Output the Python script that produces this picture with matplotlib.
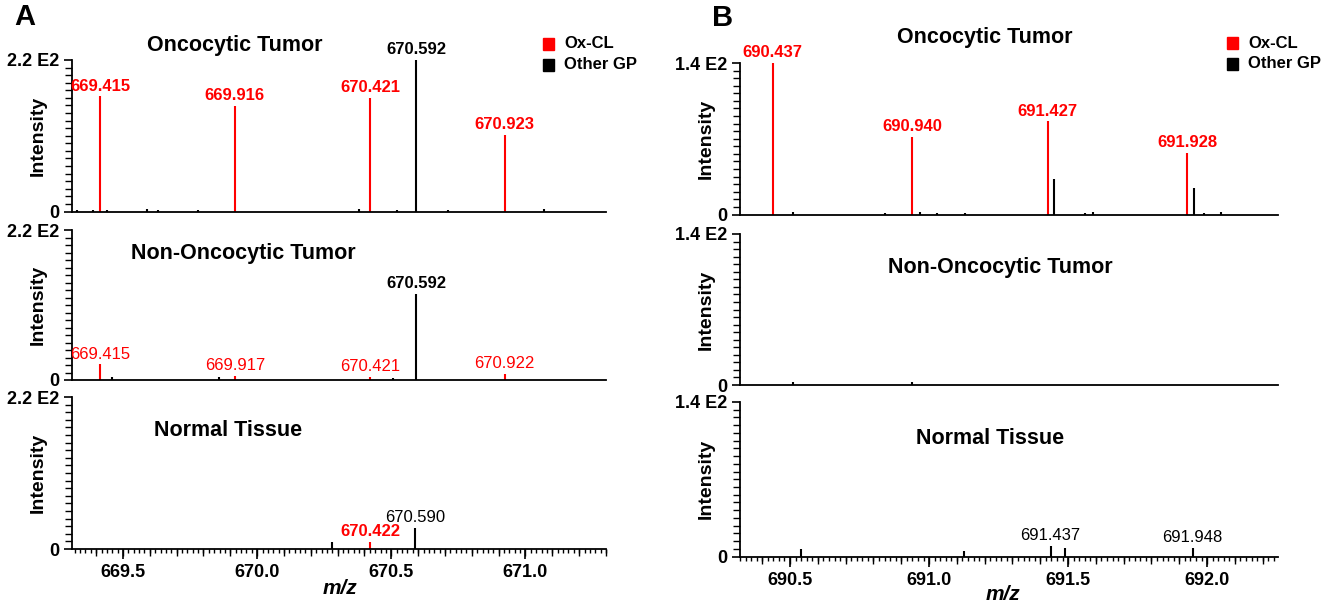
import matplotlib
matplotlib.use("Agg")
import matplotlib.pyplot as plt
from matplotlib.patches import Rectangle
from matplotlib.ticker import MultipleLocator, FixedLocator, NullFormatter

plt.rcParams['font.family'] = ['Liberation Sans', 'DejaVu Sans']

RED = '#ff0000'
BLACK = '#000000'

# ---------------- data ----------------
# Panel A (m/z 669.3 - 671.3), y max 2.2 E2
A_top_ox_mz = [669.415, 669.916, 670.421, 670.923]
A_top_ox_int = [167, 153, 165, 111]
A_top_gp_mz = [669.33, 669.39, 669.44, 669.59, 669.63, 669.78, 670.38, 670.52, 670.592, 670.71, 671.07]
A_top_gp_int = [2, 2, 2, 3, 2, 2, 4, 2, 220, 1.5, 3]
A_top_labels = [("669.415", 'ox', True), ("669.916", 'ox', True), ("670.421", 'ox', True),
                ("670.592", 'gp', True), ("670.923", 'ox', True)]

A_mid_ox_mz = [669.415, 669.917, 670.421, 670.922]
A_mid_ox_int = [23, 6.5, 5, 9]
A_mid_gp_mz = [669.46, 669.857, 670.505, 670.592]
A_mid_gp_int = [4.5, 5, 3, 126]
A_mid_labels = [("669.415", 'ox', False), ("669.917", 'ox', False), ("670.421", 'ox', False),
                ("670.592", 'gp', True), ("670.922", 'ox', False)]

A_bot_ox_mz = [670.422]
A_bot_ox_int = [10]
A_bot_gp_mz = [670.28, 670.590]
A_bot_gp_int = [10, 31]
A_bot_labels = [("670.422", 'ox', True), ("670.590", 'gp', False)]

# Panel B (m/z 690.3 - 692.3), y max 1.4 E2
B_top_ox_mz = [690.437, 690.940, 691.427, 691.928]
B_top_ox_int = [140, 72, 86, 57]
B_top_gp_mz = [690.51, 690.84, 690.966, 691.03, 691.13, 691.448, 691.56, 691.59, 691.953, 691.99, 692.05]
B_top_gp_int = [2.5, 1.5, 2.5, 1.5, 1.5, 33, 1.5, 2, 24.6, 1.5, 2]
B_top_labels = [("690.437", 'ox', True), ("690.940", 'ox', True), ("691.427", 'ox', True),
                ("691.928", 'ox', True)]

B_mid_ox_mz = []
B_mid_ox_int = []
B_mid_gp_mz = [690.51, 690.94]
B_mid_gp_int = [3, 3]
B_mid_labels = []

B_bot_ox_mz = []
B_bot_ox_int = []
B_bot_gp_mz = [690.54, 691.126, 691.437, 691.49, 691.948]
B_bot_gp_int = [6.5, 5, 9.5, 8, 8]
B_bot_labels = [("691.437", 'gp', False), ("691.948", 'gp', False)]

A_xticks = [669.5, 670.0, 670.5, 671.0]
B_xticks = [690.5, 691.0, 691.5, 692.0]
A_ymax, A_ymax_label = 220, "2.2 E2"
B_ymax, B_ymax_label = 140, "1.4 E2"
titles = ["Oncocytic Tumor", "Non-Oncocytic Tumor", "Normal Tissue"]
legend_labels = ["Ox-CL", "Other GP"]

# ---------------- figure ----------------
W, H = 1340, 604
fig = plt.figure(figsize=(W / 100, H / 100), dpi=100)


def add_ax(l, t, r, b):
    ax = fig.add_axes([l / W, 1 - b / H, (r - l) / W, (b - t) / H])
    ax._px = (l, t, r, b)
    return ax


def draw_panel(ax, ox_mz, ox_int, gp_mz, gp_int, labels, xlim, ymax, ylab, bottom, xticks,
               ylabel_x, xlabel_xy=None):
    l, t, r, b = ax._px
    ax.vlines(gp_mz, 0, gp_int, color=BLACK, lw=1.5, clip_on=False)
    ax.vlines(ox_mz, 0, ox_int, color=RED, lw=1.5, clip_on=False)
    ax.set_xlim(*xlim)
    ax.set_ylim(0, ymax)
    for s in ['top', 'right']:
        ax.spines[s].set_visible(False)
    for s in ['left', 'bottom']:
        ax.spines[s].set_linewidth(1.3)
    ax.yaxis.set_major_locator(FixedLocator([0, ymax]))
    ax.set_yticklabels(["0", ylab])
    ax.yaxis.set_minor_locator(MultipleLocator(ymax / 20))
    ax.tick_params(axis='y', which='major', length=6, width=1.2, pad=3,
                   labelsize=13)
    ax.tick_params(axis='y', which='minor', length=5, width=1.0)
    for tl in ax.get_yticklabels():
        tl.set_fontweight('bold')
    ax.set_ylabel("Intensity", fontsize=14, fontweight='bold')
    ax.yaxis.set_label_coords((ylabel_x - l) / (r - l), 0.5)
    ax.yaxis.label.set_va('center')
    if bottom:
        ax.xaxis.set_major_locator(FixedLocator(xticks))
        ax.set_xticklabels([f"{v:.1f}" for v in xticks])
        ax.xaxis.set_minor_locator(MultipleLocator(0.02))
        ax.tick_params(axis='x', which='major', length=7, width=1.2, labelsize=13, pad=4)
        ax.tick_params(axis='x', which='minor', length=3, width=1.0)
        for tl in ax.get_xticklabels():
            tl.set_fontweight('bold')
        sec = ax.secondary_xaxis('bottom')
        sec.xaxis.set_major_locator(MultipleLocator(0.1))
        sec.xaxis.set_major_formatter(NullFormatter())
        sec.tick_params(axis='x', length=5, width=1.0)
        sec.spines['bottom'].set_visible(False)
        ax.set_xlabel("m/z", fontsize=15, fontweight='bold', style='italic')
        xx, yy = xlabel_xy
        ax.xaxis.set_label_coords((xx - l) / (r - l), (b - yy) / (b - t))
        ax.xaxis.label.set_va('center')
    else:
        ax.set_xticks([])
    all_mz = list(ox_mz) + list(gp_mz)
    all_int = list(ox_int) + list(gp_int)
    for txt, kind, bold in labels:
        v = float(txt)
        i = min(range(len(all_mz)), key=lambda k: abs(all_mz[k] - v))
        ax.annotate(txt, (all_mz[i], all_int[i]), xytext=(0, 2), textcoords='offset points',
                    ha='center', va='bottom', fontsize=12,
                    fontweight='bold' if bold else 'normal',
                    color=RED if kind == 'ox' else BLACK, annotation_clip=False)


A_xlim = (669.31, 671.30)
B_xlim = (690.32, 692.255)

axA = [add_ax(72, 60, 606, 211.5), add_ax(72, 230, 606, 380), add_ax(72, 397, 606, 549)]
axB = [add_ax(740, 63, 1278, 214.5), add_ax(740, 234, 1278, 385), add_ax(740, 402, 1278, 556.5)]

draw_panel(axA[0], A_top_ox_mz, A_top_ox_int, A_top_gp_mz, A_top_gp_int, A_top_labels,
           A_xlim, A_ymax, A_ymax_label, False, A_xticks, 38)
draw_panel(axA[1], A_mid_ox_mz, A_mid_ox_int, A_mid_gp_mz, A_mid_gp_int, A_mid_labels,
           A_xlim, A_ymax, A_ymax_label, False, A_xticks, 38)
draw_panel(axA[2], A_bot_ox_mz, A_bot_ox_int, A_bot_gp_mz, A_bot_gp_int, A_bot_labels,
           A_xlim, A_ymax, A_ymax_label, True, A_xticks, 38, (340, 589))
draw_panel(axB[0], B_top_ox_mz, B_top_ox_int, B_top_gp_mz, B_top_gp_int, B_top_labels,
           B_xlim, B_ymax, B_ymax_label, False, B_xticks, 706)
draw_panel(axB[1], B_mid_ox_mz, B_mid_ox_int, B_mid_gp_mz, B_mid_gp_int, B_mid_labels,
           B_xlim, B_ymax, B_ymax_label, False, B_xticks, 706)
draw_panel(axB[2], B_bot_ox_mz, B_bot_ox_int, B_bot_gp_mz, B_bot_gp_int, B_bot_labels,
           B_xlim, B_ymax, B_ymax_label, True, B_xticks, 706, (1003, 594))

# titles
def ftext(x, y, s, **kw):
    fig.text(x / W, 1 - y / H, s, **kw)

title_kw = dict(fontsize=15.5, fontweight='bold', ha='center', va='center')
ftext(235, 45, titles[0], **title_kw)
ftext(243, 253, titles[1], **title_kw)
ftext(228, 430, titles[2], **title_kw)
ftext(985, 37, titles[0], **title_kw)
ftext(1000, 268, titles[1], **title_kw)
ftext(990, 439, titles[2], **title_kw)

ftext(25, 17, "A", fontsize=21, fontweight='bold', ha='center', va='center')
ftext(723, 18, "B", fontsize=21, fontweight='bold', ha='center', va='center')

# legends
def legend_at(x, y):
    for i, (lab, col) in enumerate(zip(legend_labels, [RED, BLACK])):
        yy = y + i * 20.5
        fig.patches.append(Rectangle(((x - 5.5) / W, 1 - (yy + 6) / H), 11 / W, 12 / H,
                                     transform=fig.transFigure, color=col, figure=fig))
        ftext(x + 16, yy, lab, fontsize=12, fontweight='bold', ha='left', va='center')

legend_at(548, 44)
legend_at(1232, 43)

fig.savefig("out.png", dpi=100)
